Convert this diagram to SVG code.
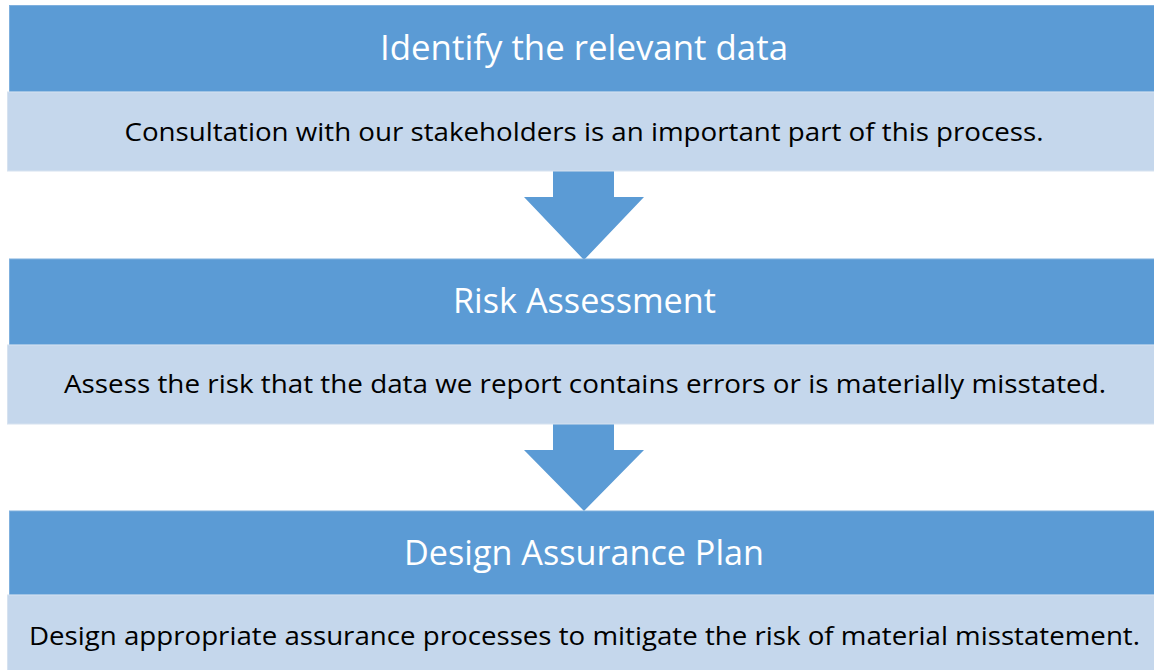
<svg xmlns="http://www.w3.org/2000/svg" width="1154" height="670" viewBox="0 0 1154 670">
<style>
.hd{fill:#5B9BD5;stroke:#7FB0DE;stroke-width:1}
.bd{fill:#C5D7EC;stroke:#D6E2F0;stroke-width:1}
.ht{font-family:"Open Sans","Liberation Sans",sans-serif;font-size:34px;fill:#FFFFFF;text-anchor:middle}
.bt{font-family:"Open Sans","Liberation Sans",sans-serif;font-size:25.5px;fill:#000000;text-anchor:middle}
.ar{fill:#5B9BD5}
</style>
<rect width="1154" height="670" fill="#FFFFFF"/>
<g id="connectors">
<polygon class="ar" points="553,171 614,171 614,197 644,197 584,260 524,197 553,197"/>
<polygon class="ar" points="553,424 614,424 614,450 644,450 584,511 524,450 553,450"/>
</g>
<g id="step1">
<rect class="hd" x="9.5" y="5.5" width="1160" height="86.5"/>
<rect class="bd" x="7.5" y="92" width="1160" height="79"/>
<text class="ht" x="584" y="60" textLength="408" lengthAdjust="spacingAndGlyphs">Identify the relevant data</text>
<text class="bt" x="584" y="141" textLength="919" lengthAdjust="spacingAndGlyphs">Consultation with our stakeholders is an important part of this process.</text>
</g>
<g id="step2">
<rect class="hd" x="9.5" y="259" width="1160" height="86"/>
<rect class="bd" x="7.5" y="345" width="1160" height="79"/>
<text class="ht" x="584.5" y="313" textLength="263" lengthAdjust="spacingAndGlyphs">Risk Assessment</text>
<text class="bt" x="585" y="393" textLength="1042" lengthAdjust="spacingAndGlyphs">Assess the risk that the data we report contains errors or is materially misstated.</text>
</g>
<g id="step3">
<rect class="hd" x="9.5" y="511" width="1160" height="84"/>
<rect class="bd" x="7.5" y="595" width="1160" height="80"/>
<text class="ht" x="584" y="565" textLength="360" lengthAdjust="spacingAndGlyphs">Design Assurance Plan</text>
<text class="bt" x="584.5" y="645" textLength="1111" lengthAdjust="spacingAndGlyphs">Design appropriate assurance processes to mitigate the risk of material misstatement.</text>
</g>
</svg>
